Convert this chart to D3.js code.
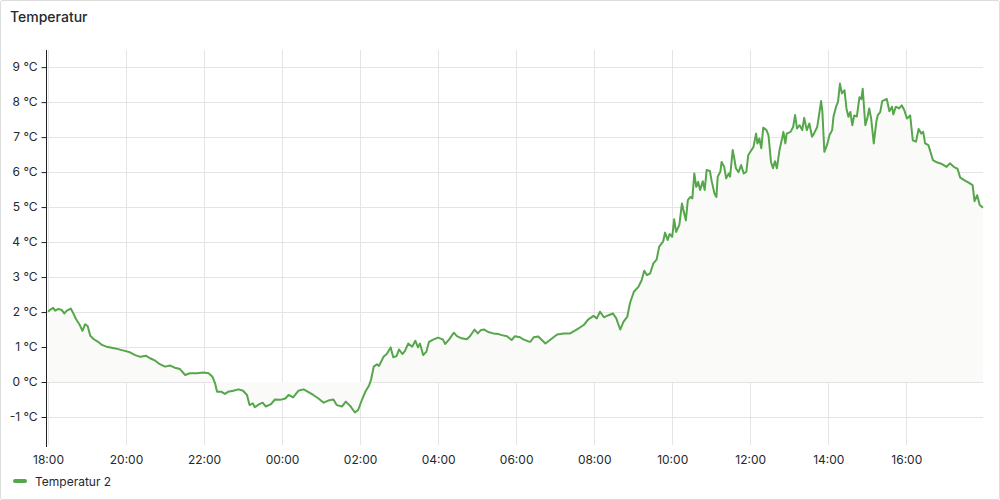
<!DOCTYPE html>
<html>
<head>
<meta charset="utf-8">
<script src="https://cdn.jsdelivr.net/npm/d3@7"></script>
<style>
  body { margin: 0; background: #fff; font-family: Inter, "Noto Sans", sans-serif; }
  #chart svg { display: block; }
</style>
</head>
<body>
<div id="chart"></div>
<script>
// Temperatur panel

// minutes after 18:00 and temperature readings (°C)
var minutes = [
  0, 3, 8, 11, 16, 21, 25, 29, 35, 39, 43, 48, 53, 57, 61, 65, 70, 77, 83, 90,
  98, 108, 118, 126, 134, 142, 151, 157, 165, 172, 180, 188, 195, 203, 211, 218, 229, 239, 247, 253,
  257, 260, 267, 272, 277, 285, 293, 300, 306, 310, 315, 318, 325, 330, 335, 343, 349, 357, 365, 370,
  377, 385, 393, 400, 408, 416, 424, 431, 439, 444, 452, 458, 465, 472, 477, 483, 488, 494, 497, 501,
  506, 509, 516, 521, 527, 531, 536, 540, 545, 549, 554, 560, 565, 569, 572, 577, 582, 586, 593, 600,
  607, 611, 617, 624, 629, 636, 644, 649, 656, 661, 666, 671, 677, 685, 693, 698, 706, 713, 718, 726,
  731, 739, 742, 747, 754, 765, 772, 783, 793, 803, 813, 824, 831, 839, 844, 849, 855, 862, 869, 874,
  880, 885, 891, 895, 901, 908, 913, 917, 921, 926, 931, 936, 940, 946, 949, 953, 956, 960, 963, 966,
  971, 975, 978, 981, 984, 988, 991, 994, 997, 1000, 1003, 1007, 1010, 1013, 1018, 1021, 1025, 1028, 1030, 1034,
  1036, 1040, 1043, 1047, 1049, 1053, 1055, 1058, 1062, 1066, 1070, 1074, 1077, 1082, 1085, 1089, 1091, 1094, 1097, 1100,
  1105, 1108, 1112, 1115, 1118, 1121, 1125, 1129, 1131, 1134, 1136, 1142, 1146, 1149, 1152, 1156, 1160, 1163, 1167, 1171,
  1175, 1178, 1183, 1185, 1189, 1191, 1194, 1198, 1202, 1206, 1208, 1212, 1215, 1218, 1221, 1225, 1228, 1231, 1234, 1237,
  1240, 1244, 1248, 1251, 1253, 1257, 1260, 1263, 1266, 1270, 1274, 1276, 1280, 1283, 1290, 1294, 1298, 1300, 1304, 1309,
  1313, 1317, 1321, 1326, 1330, 1335, 1339, 1343, 1346, 1349, 1354, 1358, 1361, 1367, 1375, 1382, 1387, 1393, 1399, 1403,
  1409, 1416, 1422, 1425, 1429, 1433, 1438
];
var temps = [
  2.01, 2.06, 2.12, 2.04, 2.09, 2.06, 1.96, 2.04, 2.10, 1.96, 1.80, 1.66, 1.46, 1.65, 1.60, 1.32, 1.23, 1.15, 1.06, 1.01,
  0.98, 0.94, 0.89, 0.85, 0.77, 0.72, 0.75, 0.68, 0.61, 0.51, 0.44, 0.47, 0.41, 0.37, 0.20, 0.25, 0.25, 0.27, 0.25, 0.15,
  -0.04, -0.28, -0.28, -0.34, -0.28, -0.25, -0.21, -0.25, -0.37, -0.66, -0.61, -0.72, -0.63, -0.59, -0.70, -0.63, -0.50, -0.51, -0.47, -0.37,
  -0.44, -0.25, -0.21, -0.28, -0.37, -0.47, -0.59, -0.53, -0.50, -0.66, -0.70, -0.56, -0.69, -0.87, -0.80, -0.50, -0.28, -0.09, 0.08, 0.44,
  0.51, 0.46, 0.72, 0.80, 0.99, 0.71, 0.74, 0.93, 0.80, 0.89, 1.10, 1.01, 1.18, 0.99, 1.10, 0.77, 0.87, 1.15, 1.22, 1.27,
  1.22, 1.09, 1.22, 1.41, 1.31, 1.25, 1.22, 1.31, 1.50, 1.39, 1.49, 1.50, 1.43, 1.39, 1.37, 1.34, 1.31, 1.20, 1.31, 1.28,
  1.22, 1.16, 1.15, 1.28, 1.30, 1.10, 1.20, 1.36, 1.39, 1.39, 1.50, 1.63, 1.79, 1.89, 1.82, 2.01, 1.85, 1.91, 1.96, 1.82,
  1.50, 1.72, 1.87, 2.25, 2.58, 2.72, 2.91, 3.18, 3.06, 3.10, 3.39, 3.50, 3.87, 4.01, 4.27, 4.06, 4.23, 4.15, 4.65, 4.29,
  4.49, 5.10, 4.85, 4.62, 5.20, 5.29, 5.25, 5.96, 5.58, 5.72, 5.49, 5.74, 5.49, 6.06, 6.03, 5.72, 5.39, 5.29, 5.87, 6.01,
  6.29, 6.15, 5.82, 5.96, 5.87, 6.63, 6.44, 6.11, 6.00, 6.20, 5.96, 6.01, 6.49, 6.63, 6.72, 7.10, 6.82, 6.96, 6.68, 7.27,
  7.20, 7.06, 6.29, 6.11, 6.31, 6.11, 6.63, 6.96, 7.15, 6.82, 7.10, 7.15, 7.29, 7.63, 7.25, 7.34, 7.20, 7.55, 7.20, 7.39,
  7.01, 7.10, 7.29, 7.53, 8.03, 7.72, 6.58, 6.77, 7.06, 7.20, 7.58, 7.87, 8.01, 8.53, 8.25, 8.34, 7.82, 7.58, 7.72, 7.34,
  7.62, 7.59, 8.14, 8.09, 8.38, 7.34, 7.53, 7.82, 7.53, 6.82, 7.44, 7.62, 7.72, 8.03, 8.09, 7.74, 7.87, 7.65, 7.87, 7.82,
  7.91, 7.77, 7.53, 7.62, 6.91, 6.87, 7.23, 7.10, 7.15, 6.82, 6.77, 6.53, 6.34, 6.28, 6.23, 6.15, 6.25, 6.15, 6.09, 5.84,
  5.77, 5.70, 5.63, 5.17, 5.34, 5.06, 4.98
];
var yTicks = [-1, 0, 1, 2, 3, 4, 5, 6, 7, 8, 9];
var seriesName = "Temperatur 2";
var panelTitle = "Temperatur";

var width = 1000
var height = 500
var lineColor = "#56a64b"

var start = new Date(2024, 0, 1, 18, 0)
var data = minutes.map(function(m, i) {
  return { t: d3.timeMinute.offset(start, m), v: temps[i] }
})

var svg = d3.select("#chart")
  .append("svg")
    .attr("width", width)
    .attr("height", height)

// panel frame
svg.append("rect")
  .attr("x", 0.5).attr("y", 0.5)
  .attr("width", width - 1).attr("height", height - 1)
  .attr("rx", 2)
  .attr("fill", "#fff")
  .attr("stroke", "#dcdcdc")

svg.append("text")
  .attr("x", 10).attr("y", 22)
  .attr("font-size", 14)
  .attr("font-weight", 500)
  .attr("fill", "#24292e")
  .text(panelTitle)

// scales
var x = d3.scaleTime()
  .domain([start, d3.timeMinute.offset(start, 1438)])
  .range([48, 983])
var y = d3.scaleLinear()
  .domain([-1.8, 9.49])
  .range([445, 50])

var xTicks = d3.timeHour.every(2).range(start, d3.timeMinute.offset(start, 1439))

// grid
svg.append("g")
  .selectAll("line")
  .data(yTicks)
  .enter().append("line")
    .attr("x1", 47).attr("x2", 983)
    .attr("y1", function(d) { return Math.round(y(d)) + 0.5 })
    .attr("y2", function(d) { return Math.round(y(d)) + 0.5 })
    .attr("stroke", "#e4e4e4")
svg.append("g")
  .selectAll("line")
  .data(xTicks)
  .enter().append("line")
    .attr("y1", 50).attr("y2", 445)
    .attr("x1", function(d) { return Math.round(x(d)) + 0.5 })
    .attr("x2", function(d) { return Math.round(x(d)) + 0.5 })
    .attr("stroke", "#e4e4e4")

// area down to zero + line
var area = d3.area()
  .x(function(d) { return x(d.t) })
  .y0(y(0))
  .y1(function(d) { return y(d.v) })
svg.append("path")
  .datum(data)
  .attr("d", area)
  .attr("fill", "#fafaf9")

svg.append("path")
  .datum(data)
  .attr("d", d3.line().x(function(d) { return x(d.t) }).y(function(d) { return y(d.v) }))
  .attr("fill", "none")
  .attr("stroke", lineColor)
  .attr("stroke-width", 2)
  .attr("stroke-linejoin", "round")

// y axis
var yAxis = svg.append("g")
  .attr("transform", "translate(46.5,0)")
  .call(d3.axisLeft(y).tickValues(yTicks).tickSize(5).tickPadding(4)
    .tickFormat(function(d) { return d + " °C" }))
yAxis.select(".domain").attr("d", "M0,50V447").attr("stroke", "#202020")
yAxis.selectAll(".tick line").attr("stroke", "#202020")
yAxis.selectAll("text").attr("font-family", "Inter, sans-serif").attr("font-size", 12).attr("fill", "#24292e")

// x axis labels
var xAxis = svg.append("g")
  .attr("transform", "translate(0,449)")
  .call(d3.axisBottom(x).tickValues(xTicks).tickSize(0).tickPadding(6)
    .tickFormat(d3.timeFormat("%H:%M")))
xAxis.select(".domain").remove()
xAxis.selectAll("text").attr("font-family", "Inter, sans-serif").attr("font-size", 12).attr("fill", "#24292e")

// legend
svg.append("line")
  .attr("x1", 15).attr("x2", 25)
  .attr("y1", 481).attr("y2", 481)
  .attr("stroke", lineColor)
  .attr("stroke-width", 4)
  .attr("stroke-linecap", "round")
svg.append("text")
  .attr("x", 35).attr("y", 485.5)
  .attr("font-size", 12)
  .attr("fill", "#24292e")
  .text(seriesName)
</script>
</body>
</html>
